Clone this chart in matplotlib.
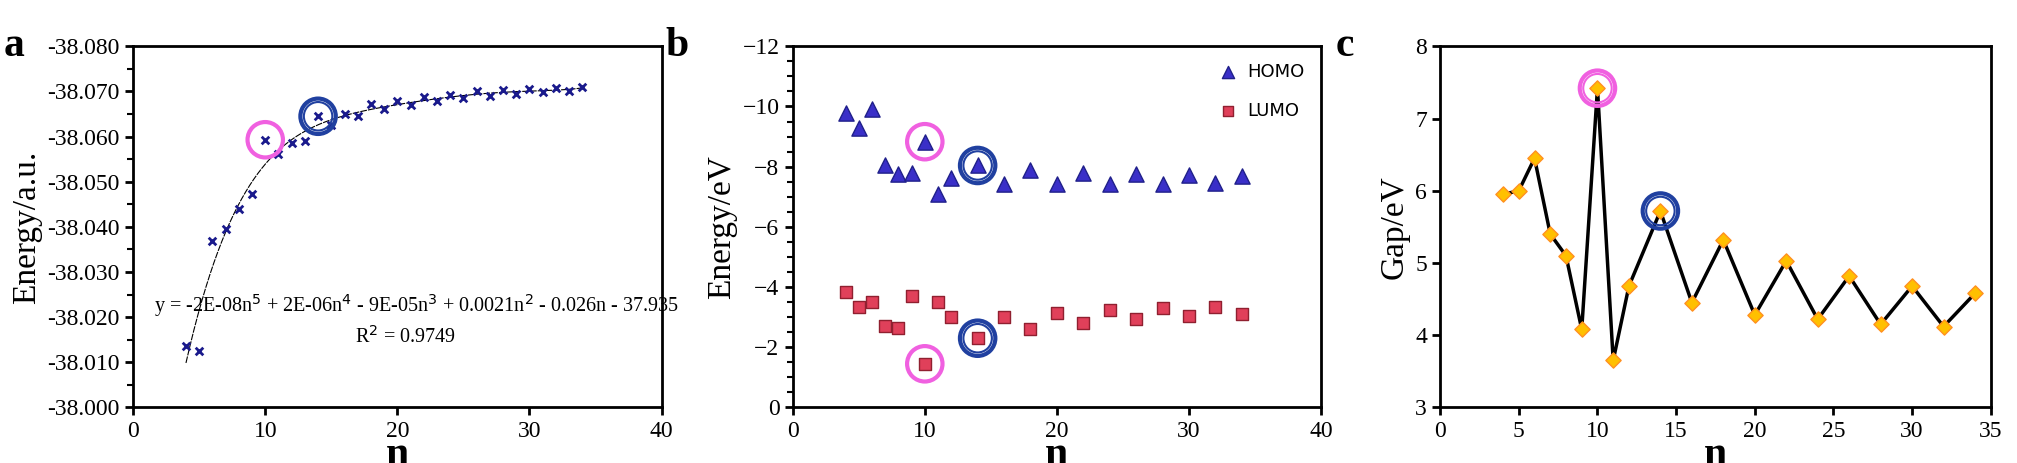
import numpy as np
import matplotlib
matplotlib.use("Agg")
import matplotlib.pyplot as plt
from matplotlib.ticker import MultipleLocator, FormatStrFormatter

plt.rcParams["font.family"] = "Liberation Serif"

n_a = list(range(4, 35))
energy = [-38.0135, -38.0125, -38.0368, -38.0395, -38.0440, -38.0472, -38.0593, -38.0562,
          -38.0585, -38.0590, -38.0645, -38.0625, -38.0650, -38.0645, -38.0672, -38.0660,
          -38.0678, -38.0670, -38.0688, -38.0678, -38.0692, -38.0685, -38.0700, -38.0690,
          -38.0703, -38.0695, -38.0705, -38.0698, -38.0707, -38.0700, -38.0710]

n_b = [4, 5, 6, 7, 8, 9, 10, 11, 12, 14, 16, 18, 20, 22, 24, 26, 28, 30, 32, 34]
homo = [-9.79, -9.30, -9.90, -8.06, -7.76, -7.79, -8.83, -7.10, -7.64, -8.04,
        -7.44, -7.88, -7.44, -7.80, -7.42, -7.76, -7.42, -7.71, -7.46, -7.68]
lumo = [-3.85, -3.35, -3.50, -2.70, -2.65, -3.70, -1.45, -3.50, -3.00, -2.30,
        -3.00, -2.60, -3.15, -2.80, -3.25, -2.95, -3.30, -3.05, -3.35, -3.10]
gap = [5.95, 6.00, 6.45, 5.40, 5.10, 4.08, 7.42, 3.65, 4.68, 5.72,
       4.45, 5.32, 4.28, 5.03, 4.22, 4.82, 4.15, 4.68, 4.12, 4.58]

fig = plt.figure(figsize=(20.17, 4.63), dpi=100)
axa = fig.add_axes([0.066, 0.12, 0.262, 0.78])
axb = fig.add_axes([0.393, 0.12, 0.262, 0.78])
axc = fig.add_axes([0.714, 0.12, 0.273, 0.78])

def style(ax):
    for s in ax.spines.values():
        s.set_linewidth(2)
    ax.tick_params(which="major", labelsize=17, width=2, length=6)
    ax.tick_params(which="minor", width=1.5, length=4)
    ax.set_xlabel("n", fontsize=30, fontweight="bold", labelpad=-4)

def rings(ax, x, y, color, double=False):
    ax.scatter([x], [y], s=650, facecolors="none", edgecolors=color, linewidths=3, zorder=5)
    if double:
        ax.scatter([x], [y], s=420, facecolors="none", edgecolors=color, linewidths=1.5, zorder=5)

# a
axa.scatter(n_a, energy, marker="x", s=30, color="#1a1a8c", linewidths=2, zorder=3)
coef = np.polyfit(n_a, energy, 5)
xf = np.linspace(4, 34, 200)
axa.plot(xf, np.polyval(coef, xf), color="black", lw=0.8, ls=(0, (6, 1)))
rings(axa, n_a[6], energy[6], "#f060e0")
rings(axa, n_a[10], energy[10], "#2040a0", True)
axa.set_xlim(0, 40)
axa.set_ylim(-38.000, -38.080)
axa.yaxis.set_major_locator(MultipleLocator(0.010))
axa.yaxis.set_minor_locator(MultipleLocator(0.005))
axa.yaxis.set_major_formatter(FormatStrFormatter("%.3f"))
axa.xaxis.set_major_locator(MultipleLocator(10))
axa.set_ylabel("Energy/a.u.", fontsize=24)
axa.text(0.04, 0.265, "y = -2E-08n$^5$ + 2E-06n$^4$ - 9E-05n$^3$ + 0.0021n$^2$ - 0.026n - 37.935",
         transform=axa.transAxes, fontsize=14.5)
axa.text(0.42, 0.18, "R$^2$ = 0.9749", transform=axa.transAxes, fontsize=14.5)
style(axa)

# b
axb.scatter(n_b, homo, marker="^", s=120, color="#3a2fc8", edgecolors="#20208a", label="HOMO", zorder=3)
axb.scatter(n_b, lumo, marker="s", s=70, color="#e0405a", edgecolors="#902030", label="LUMO", zorder=3)
rings(axb, 10, homo[6], "#f060e0")
rings(axb, 10, lumo[6], "#f060e0")
rings(axb, 14, homo[9], "#2040a0", True)
rings(axb, 14, lumo[9], "#2040a0", True)
axb.set_xlim(0, 40)
axb.set_ylim(0, -12)
axb.yaxis.set_major_locator(MultipleLocator(2))
axb.yaxis.set_minor_locator(MultipleLocator(0.5))
axb.xaxis.set_major_locator(MultipleLocator(10))
axb.set_ylabel("Energy/eV", fontsize=24)
axb.legend(loc="upper right", frameon=False, handletextpad=0.1, labelspacing=1.2,
           prop={"family": "DejaVu Sans", "size": 13}, markerscale=0.8)
style(axb)

# c
axc.plot(n_b, gap, color="black", lw=2.5, zorder=2)
axc.scatter(n_b, gap, marker="D", s=60, color="#ffc000", edgecolors="#ff9020", zorder=3)
rings(axc, 10, gap[6], "#f060e0", True)
rings(axc, 14, gap[9], "#2040a0", True)
axc.set_xlim(0, 35)
axc.set_ylim(3, 8)
axc.xaxis.set_major_locator(MultipleLocator(5))
axc.yaxis.set_major_locator(MultipleLocator(1))
axc.set_ylabel("Gap/eV", fontsize=24)
style(axc)

for x, lab in [(0.002, "a"), (0.330, "b"), (0.662, "c")]:
    fig.text(x, 0.90, lab, fontsize=30, fontweight="bold", va="center")

fig.savefig("out.png", dpi=100)
